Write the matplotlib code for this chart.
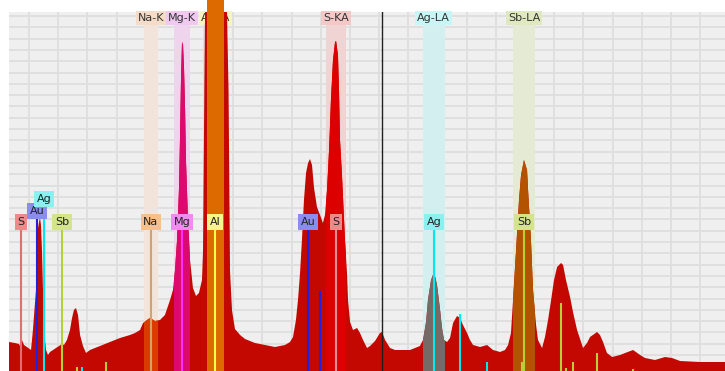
import numpy as np
import matplotlib
matplotlib.use("Agg")
from matplotlib import pyplot as plt
from matplotlib.patches import Rectangle
from matplotlib.ticker import MultipleLocator

# Spectrum: energy (keV) and counts
energy = [0.063, 0.104, 0.131, 0.138, 0.152, 0.166, 0.186, 0.214, 0.227, 0.241,
          0.248, 0.255, 0.262, 0.275, 0.282, 0.289, 0.296, 0.303, 0.317, 0.330,
          0.344, 0.365, 0.385, 0.406, 0.426, 0.440, 0.460, 0.481, 0.495, 0.508,
          0.522, 0.536, 0.550, 0.570, 0.591, 0.618, 0.652, 0.687, 0.755, 0.824,
          0.892, 0.927, 0.961, 0.982, 1.009, 1.030, 1.064, 1.098, 1.132, 1.167,
          1.187, 1.201, 1.215, 1.228, 1.235, 1.242, 1.249, 1.256, 1.263, 1.270,
          1.276, 1.290, 1.304, 1.324, 1.345, 1.365, 1.386, 1.393, 1.403, 1.413,
          1.427, 1.455, 1.482, 1.509, 1.537, 1.557, 1.568, 1.578, 1.592, 1.612,
          1.647, 1.681, 1.749, 1.818, 1.886, 1.955, 1.989, 2.010, 2.030, 2.044,
          2.058, 2.071, 2.085, 2.099, 2.113, 2.126, 2.140, 2.154, 2.174, 2.195,
          2.215, 2.229, 2.243, 2.257, 2.270, 2.284, 2.298, 2.305, 2.318, 2.325,
          2.332, 2.346, 2.366, 2.380, 2.387, 2.401, 2.421, 2.449, 2.469, 2.490,
          2.517, 2.538, 2.572, 2.606, 2.620, 2.641, 2.675, 2.709, 2.812, 2.880,
          2.901, 2.922, 2.935, 2.956, 2.977, 2.997, 3.018, 3.031, 3.045, 3.066,
          3.086, 3.107, 3.134, 3.155, 3.175, 3.203, 3.223, 3.244, 3.292, 3.340,
          3.381, 3.429, 3.463, 3.484, 3.504, 3.518, 3.539, 3.559, 3.573, 3.593,
          3.614, 3.621, 3.641, 3.655, 3.676, 3.689, 3.717, 3.737, 3.758, 3.779,
          3.799, 3.820, 3.847, 3.861, 3.881, 3.909, 3.929, 3.957, 3.998, 4.025,
          4.046, 4.094, 4.114, 4.135, 4.162, 4.197, 4.252, 4.286, 4.341, 4.389,
          4.423, 4.491, 4.560, 4.608, 4.663, 4.800, 4.971]
counts = [29, 28, 27, 25, 31, 26, 24, 21, 41, 68,
          81, 121, 143, 154, 146, 121, 81, 41, 21, 16,
          19, 21, 23, 25, 27, 26, 31, 41, 53, 61,
          63, 56, 36, 25, 18, 21, 23, 25, 29, 33,
          36, 38, 41, 48, 51, 53, 50, 51, 56, 71,
          81, 101, 131, 181, 231, 291, 329, 326, 301, 261,
          211, 151, 111, 83, 75, 78, 91, 120, 300, 450,
          560, 650, 700, 650, 450, 360, 280, 100, 60, 42,
          36, 32, 28, 26, 24, 26, 29, 34, 51, 71,
          98, 131, 171, 198, 208, 212, 206, 183, 164, 156,
          148, 156, 181, 221, 271, 311, 329, 330, 316, 281,
          231, 194, 131, 98, 71, 49, 41, 43, 38, 31,
          23, 25, 30, 38, 39, 31, 23, 21, 21, 25,
          31, 49, 71, 91, 99, 86, 61, 43, 31, 29,
          33, 48, 55, 53, 46, 38, 31, 26, 24, 26,
          21, 19, 21, 26, 38, 71, 121, 171, 196, 211,
          201, 181, 131, 81, 46, 31, 23, 34, 51, 71,
          91, 104, 108, 106, 91, 74, 59, 41, 23, 28,
          34, 39, 36, 29, 18, 14, 16, 18, 21, 16,
          13, 11, 14, 13, 10, 9, 9]

# Element line markers
elements = ['S', 'Au', 'Ag', 'Sb', 'Na', 'Mg', 'Al', 'Au', 'S', 'Ag', 'Sb']
element_keV = [0.145, 0.255, 0.303, 0.426, 1.036, 1.249, 1.475, 2.113, 2.305, 2.977, 3.593]
label_counts = [149, 160, 172, 149, 149, 149, 149, 149, 149, 149, 149]
label_bg = ['#f08a8a', '#8c8cf0', '#8cf0f0', '#d4e48c', '#f5c08c', '#f08cf0',
            '#f5f58c', '#8c8cf0', '#f08a8a', '#8cf0f0', '#d4e48c']
line_color = ['#e07070', '#2020e0', '#00e8f0', '#b4d232', '#d4a070', '#ff30ff',
              '#ffff40', '#2020e0', '#e09090', '#00e8f0', '#b4d232']

# Minor lines (energy, height, colour)
minor_keV = [0.529, 0.563, 0.728, 2.195, 3.155, 3.340, 3.580, 3.847, 3.881, 3.929, 4.094, 4.341]
minor_counts = [4, 4, 9, 80, 57, 9, 9, 68, 3, 9, 18, 2]
minor_color = ['#b4d232', '#00e8f0', '#b4d232', '#2020e0', '#00e8f0', '#00e8f0',
               '#b4d232', '#b4d232', '#b4d232', '#b4d232', '#b4d232', '#b4d232']

# Highlighted regions of interest
roi_names = ['Na-K', 'Mg-K', 'Al-KA', 'S-KA', 'Ag-LA', 'Sb-LA']
roi_center = [1.036, 1.249, 1.478, 2.305, 2.975, 3.594]
roi_half = [0.048, 0.055, 0.058, 0.068, 0.075, 0.075]
roi_bg = ['#f2e4da', '#eed4ec', '#f2f2c8', '#f0d4d4', '#d4eff0', '#e4ead4']
roi_tag = ['#f5dcc8', '#f0c8f0', '#f5f5c0', '#f5c8c8', '#c8f5f5', '#e0e8c0']
roi_fill = ['#dd3a00', '#dc0a6e', '#dc6a00', '#dd0000', '#766a66', '#b35300']

cursor_keV = 2.62

fig = plt.figure(figsize=(7.25, 3.71), dpi=100)
ax = fig.add_axes([9 / 725, 0, 716 / 725, 359 / 371])
ax.set_facecolor('#efefef')
ax.set_xlim(0.063, 4.971)
ax.set_ylim(0, 359)

ax.xaxis.set_major_locator(MultipleLocator(0.2))
ax.yaxis.set_major_locator(MultipleLocator(11.3, offset=4.7))
ax.set_axisbelow(True)
ax.grid(True, color='#dedede', lw=1.3)
ax.tick_params(length=0, labelbottom=False, labelleft=False)
for s in ax.spines.values():
    s.set_visible(False)

# ROI bands and their tags along the top
for name, c, h, bg, tag in zip(roi_names, roi_center, roi_half, roi_bg, roi_tag):
    ax.axvspan(c - h, c + h, color=bg, lw=0, zorder=1)
    ax.text(c, 353, name, ha='center', va='center', fontsize=8, color='#333333',
            bbox=dict(fc=tag, ec='none', pad=1.5), zorder=1.5)

# spectrum
ax.fill_between(energy, counts, 0, color='#c20800', lw=0, zorder=2)
for c, h, fc in zip(roi_center, roi_half, roi_fill):
    fb = ax.fill_between(energy, counts, 0, color=fc, lw=0, zorder=2.5)
    fb.set_clip_path(Rectangle((c - h, 0), 2 * h, 1000, transform=ax.transData))

# element lines + labels
for name, e, y, bg, lc in zip(elements, element_keV, label_counts, label_bg, line_color):
    ax.vlines(e, 0, y, color=lc, lw=1.5, zorder=4)
    ax.text(e, y, name, ha='center', va='center', fontsize=8, color='#222222',
            bbox=dict(fc=bg, ec='none', pad=2), zorder=5)
ax.vlines(minor_keV, 0, minor_counts, colors=minor_color, lw=1.5, zorder=4)

ax.axvline(cursor_keV, color='#202020', lw=1, zorder=6)

fig.savefig('out.png', dpi=100, facecolor='white')
